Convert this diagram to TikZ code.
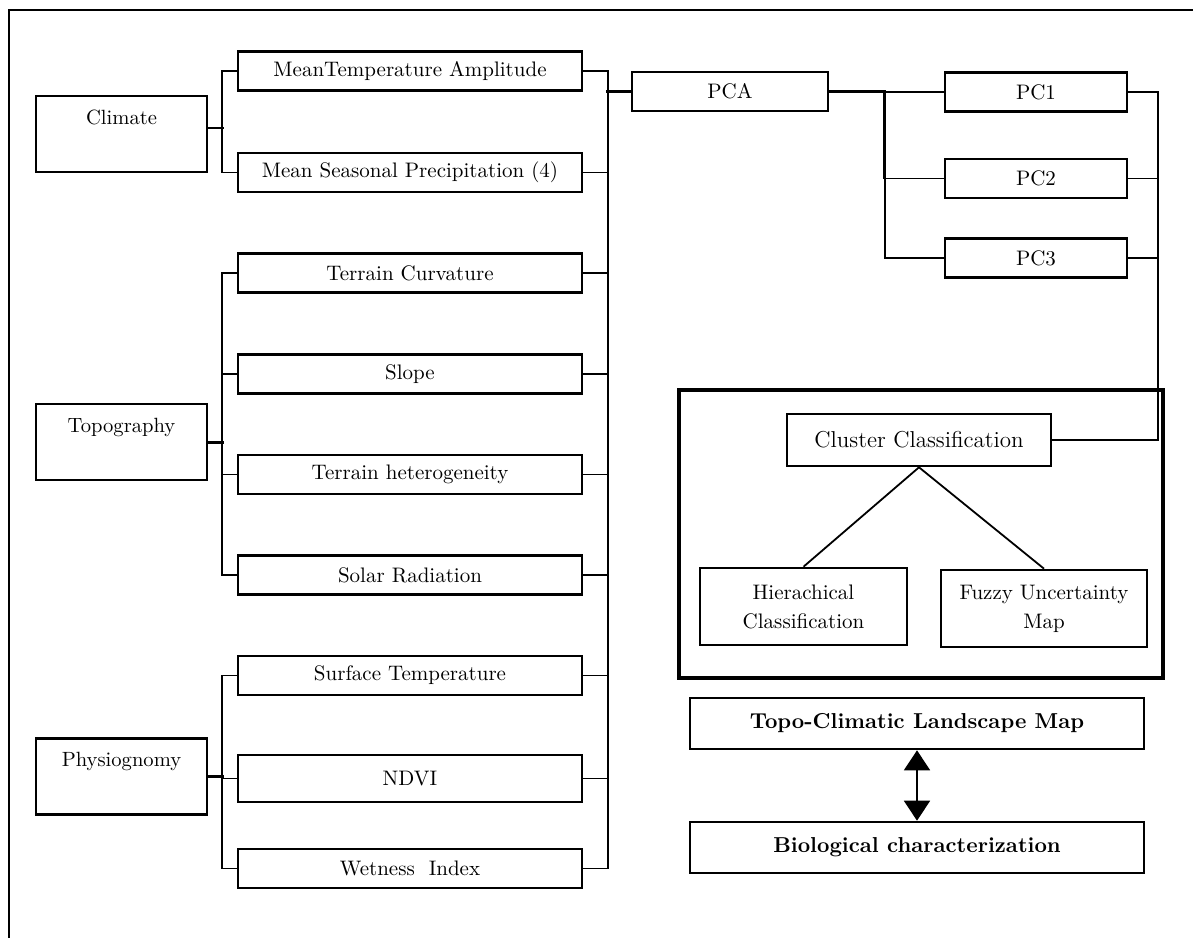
\documentclass[tikz,border=0pt]{standalone}
\usepackage{tikz}
\usetikzlibrary{arrows.meta}

\tikzset{
  box/.style={draw, line width=1.3pt, inner sep=0pt, align=center,
    font=\fontsize{10.5}{14.5}\selectfont},
  catbox/.style={box, minimum width=85.5pt, minimum height=38pt},
  cattext/.style={anchor=north, yshift=-4pt, font=\fontsize{10.3}{12.5}\selectfont},
  featbox/.style={box, minimum width=172pt, minimum height=19.5pt},
  pcbox/.style={box, minimum width=91pt, minimum height=19.5pt},
  resbox/.style={box, minimum width=227pt, minimum height=25.5pt,
    font=\fontsize{10.8}{13}\selectfont\bfseries},
  link/.style={line width=0.9pt},
  thicklink/.style={line width=1.5pt},
}

\begin{document}
\begin{tikzpicture}[x=0.5pt, y=-0.5pt]
    \useasboundingbox (0,0) rectangle (1193,938);

    % draw outer frame
    \draw[link] (1193,10) -- (9,10) -- (9,938);

    % draw category boxes
    \node[catbox, label={[cattext]north:Climate}] (clim) at (121.5,134) {};
    \node[catbox, label={[cattext]north:Topography}] (topo) at (121.5,442) {};
    \node[catbox, label={[cattext]north:Physiognomy}] (phys) at (121.5,776.5) {};

    % draw variable boxes
    \node[featbox] (mta) at (410,71) {MeanTemperature Amplitude};
    \node[featbox] (msp) at (410,172.5) {Mean Seasonal Precipitation (4)};
    \node[featbox] (curv) at (410,273) {Terrain Curvature};
    \node[featbox] (slope) at (410,374) {Slope};
    \node[featbox] (hetero) at (410,474.5) {Terrain heterogeneity};
    \node[featbox] (solar) at (410,575) {Solar Radiation};
    \node[featbox] (surft) at (410,675.5) {Surface Temperature};
    \node[featbox, minimum height=23.5pt] (ndvi) at (410,778.5) {NDVI};
    \node[featbox] (wet) at (410,868.5) {Wetness~~Index};

    % draw PCA and components
    \node[box, minimum width=98pt, minimum height=19.5pt] (pca) at (730,91.5) {PCA};
    \node[pcbox] (pc1) at (1036,92) {PC1};
    \node[pcbox] (pc2) at (1036,178.5) {PC2};
    \node[pcbox] (pc3) at (1036,258) {PC3};

    % draw classification block
    \draw[line width=2.2pt] (679,390) rectangle (1163,678);
    \node[box, minimum width=132pt, minimum height=26pt,
      font=\fontsize{11.5}{14}\selectfont] (clus) at (919,440) {Cluster Classification};
    \node[box, minimum width=103.5pt, minimum height=38.5pt] (hier) at (803.5,606.5)
      {Hierachical\\Classification};
    \node[box, minimum width=103pt, minimum height=38.5pt] (fuzzy) at (1044,608.5)
      {Fuzzy Uncertainty\\Map};

    % draw result boxes
    \node[resbox] (landmap) at (917,723.5) {Topo-Climatic Landscape Map};
    \node[resbox] (bio) at (917,847.5) {Biological characterization};

    % left brackets
    \draw[link] (mta.west) -- ++(-15,0) |- (msp.west);
    \draw[link] ([yshift=3pt]clim.east) -- ++(16,0);
    \draw[link] (curv.west) -- ++(-15,0) |- (solar.west);
    \draw[link] (slope.west) -- ++(-15,0);
    \draw[link] (hetero.west) -- ++(-15,0);
    \draw[thicklink] (topo.east) -- ++(16,0);
    \draw[link] (surft.west) -- ++(-15,0) |- (wet.west);
    \draw[link] (ndvi.west) -- ++(-15,0);
    \draw[thicklink] (phys.east) -- ++(16,0);

    % right bus into PCA
    \draw[link] (mta.east) -- ++(25,0) |- (wet.east);
    \foreach \n in {msp,curv,slope,hetero,solar,surft,ndvi}
      \draw[link] (\n.east) -- ++(25,0);
    \draw[thicklink] (pca.west) -- ++(-25,0);

    % PCA to components
    \draw[link] (pc1.west) -- ++(-59,0) |- (pc3.west);
    \draw[link] (pc2.west) -- ++(-59,0);
    \draw[thicklink] (pca.east) -| ([xshift=-29.5pt]pc2.west);

    % components to clustering
    \draw[link] (pc1.east) -- ++(30,0) |- (clus.east);
    \draw[link] (pc2.east) -- ++(30,0);
    \draw[link] (pc3.east) -- ++(30,0);
    \draw[link] (clus.south) -- (hier.north);
    \draw[link] (clus.south) -- (fuzzy.north);

    % two way arrow
    \draw[link, {Triangle[width=13pt,length=10pt]}-{Triangle[width=13pt,length=10pt]}]
      (landmap.south) -- (bio.north);

\end{tikzpicture}
\end{document}
